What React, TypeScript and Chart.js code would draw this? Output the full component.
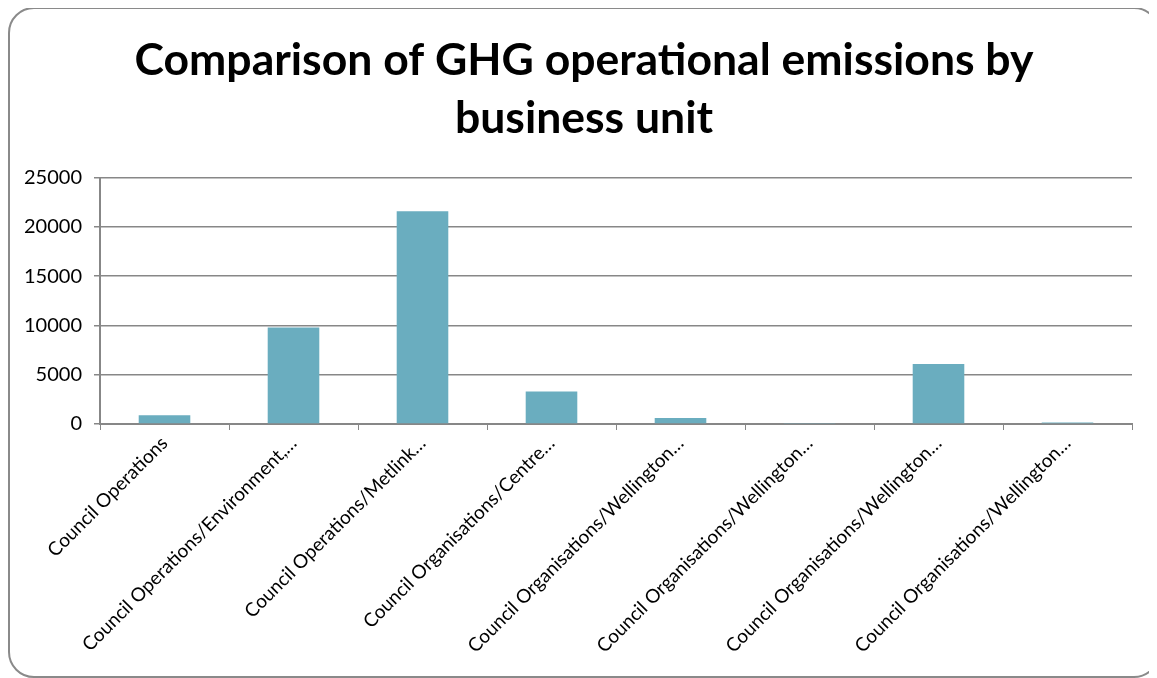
import React, { useEffect, useRef } from "react";
import { Chart, registerables } from "chart.js";

Chart.register(...registerables);

const titleLines = ["Comparison of GHG operational emissions by", "business unit"];
const categories = [
  "Council Operations",
  "Council Operations/Environment,…",
  "Council Operations/Metlink…",
  "Council Organisations/Centre…",
  "Council Organisations/Wellington…",
  "Council Organisations/Wellington…",
  "Council Organisations/Wellington…",
  "Council Organisations/Wellington…",
];
const emissions = [900, 9800, 21600, 3300, 600, 100, 6100, 150];
const yMin = 0;
const yMax = 25000;
const yStep = 5000;

const FONT = "Lato, 'Open Sans', sans-serif";

export default function App() {
  const ref = useRef<HTMLCanvasElement | null>(null);

  useEffect(() => {
    if (!ref.current) return;
    const chart = new Chart(ref.current, {
      type: "bar",
      data: {
        labels: categories,
        datasets: [
          {
            data: emissions,
            backgroundColor: "#6AADBF",
            borderWidth: 0,
            barPercentage: 0.4,
            categoryPercentage: 1,
          },
        ],
      },
      options: {
        animation: false,
        responsive: false,
        maintainAspectRatio: false,
        layout: { padding: { left: 0, right: 0, top: 23, bottom: 0 } },
        plugins: {
          legend: { display: false },
          tooltip: { enabled: false },
          title: {
            display: true,
            text: titleLines,
            color: "#000",
            font: { family: FONT, size: 44.5, weight: "bold", lineHeight: 1.3 },
            padding: { top: 0, bottom: 30 },
          },
        },
        scales: {
          x: {
            afterFit: (scale: any) => {
              scale.height = 252;
            },
            grid: {
              display: true,
              drawOnChartArea: false,
              drawTicks: true,
              tickLength: 6,
              offset: true,
              color: "#878787",
            },
            border: { display: true, color: "#878787", width: 2 },
            ticks: {
              color: "#000",
              font: { family: FONT, size: 19 },
              maxRotation: 45,
              minRotation: 45,
              autoSkip: false,
              padding: 2,
            },
          },
          y: {
            min: yMin,
            max: yMax,
            afterFit: (scale: any) => {
              scale.width = 90;
            },
            grid: {
              color: "#878787",
              lineWidth: 1.5,
              drawTicks: true,
              tickLength: 6,
            },
            border: { display: true, color: "#878787", width: 2 },
            ticks: {
              stepSize: yStep,
              color: "#000",
              font: { family: FONT, size: 20 },
              padding: 12,
              callback: (v: any) => String(v),
            },
          },
          yRightSpace: {
            type: "linear",
            position: "right",
            display: true,
            afterFit: (scale: any) => {
              scale.width = 26;
            },
            grid: { display: false, drawTicks: false },
            border: { display: false },
            ticks: { display: false },
          },
        },
      },
    });
    return () => chart.destroy();
  }, []);

  return (
    <div
      style={{
        position: "relative",
        marginTop: -1,
        width: 1152,
        height: 671,
        border: "2px solid #8a8a8a",
        borderRadius: 26,
        boxSizing: "border-box",
        background: "#fff",
        overflow: "hidden",
      }}
    >
      <canvas ref={ref} width={1148} height={667} style={{ display: "block" }} />
    </div>
  );
}
